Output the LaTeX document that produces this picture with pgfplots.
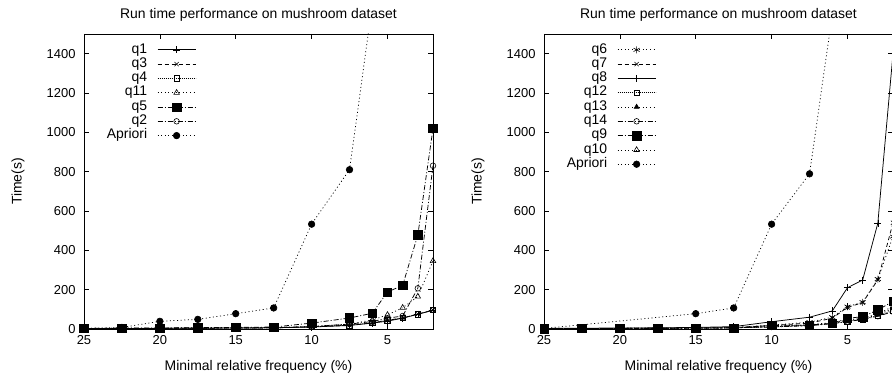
\documentclass[border=0pt]{standalone}
\usepackage{fontspec}
\setmainfont{Liberation Sans}
\usepackage{pgfplots}
\pgfplotsset{compat=1.18}
\pgfplotsset{
  gp/.style={
    scale only axis, width=349bp, height=295bp,
    xmin=2, xmax=25, x dir=reverse, ymin=0, ymax=1500,
    xtick={25,20,15,10,5}, ytick={0,200,...,1400},
    tick align=inside, major tick length=5bp,
    axis line style={line width=0.6bp}, tick style={line width=0.6bp, black},
    tick label style={font=\fontsize{13}{15}\selectfont},
    /pgf/number format/assume math mode=true,
    /pgf/number format/1000 sep={},
    yticklabel style={xshift=-5bp},
    xticklabel style={yshift=-3bp},
    label style={font=\fontsize{14}{16}\selectfont},
    title style={font=\fontsize{14}{16}\selectfont, at={(axis description cs:0.5,1.045)}, anchor=center, yshift=0pt},
    xlabel style={at={(axis description cs:0.5,-0.13)}, anchor=center},
    ylabel style={at={(axis description cs:-0.189,0.5)}, anchor=center},
    xlabel={Minimal relative frequency (\%)}, ylabel={Time(s)},
    title={Run time performance on mushroom dataset},
    every axis plot/.append style={line width=0.75bp, black},
    legend plot pos=right,
    legend cell align=right,
    legend style={draw=none, fill=none, font=\fontsize{14}{16}\selectfont,
      nodes={inner sep=0pt, text height=9.5bp, text depth=3bp},
      row sep=1.8bp, column sep=10bp, anchor=north east},
    legend image code/.code={\draw[mark repeat=2,mark phase=2,#1] plot coordinates {(0bp,0bp)(19bp,0bp)(38bp,0bp)};},
  },
  fdot/.style={dash pattern=on 0.8bp off 1.2bp},
  sdot/.style={dash pattern=on 1bp off 2.6bp},
  ddash/.style={dash pattern=on 4bp off 3bp},
  dashdot/.style={dash pattern=on 5bp off 2bp on 1bp off 2bp},
  mopt/.style={mark options={solid, line width=0.6bp}},
}
\begin{document}
\begin{tikzpicture}
\begin{axis}[gp, at={(84bp,47bp)}, anchor=south west,
  legend style={at={(axis description cs:0.33,0.975)}}]
\addplot[solid, mark=+, mark size=3.5bp, mopt] coordinates {(25,2)(22.5,3)(20,3)(17.5,4)(15,5)(12.5,6)(10,10)(7.5,18)(6,30)(5,40)(4,55)(3,75)(2,95)};
\addlegendentry{q1}
\addplot[ddash, mark=x, mark size=3bp, mopt] coordinates {(25,2)(22.5,3)(20,3)(17.5,4)(15,5)(12.5,6)(10,11)(7.5,19)(6,31)(5,44)(4,56)(3,76)(2,96)};
\addlegendentry{q3}
\addplot[fdot, mark=square, mark size=2.8bp, mopt] coordinates {(25,2)(22.5,3)(20,3)(17.5,4)(15,5)(12.5,6)(10,11)(7.5,20)(6,32)(5,45)(4,57)(3,75)(2,97)};
\addlegendentry{q4}
\addplot[sdot, mark=triangle, mark size=3.2bp, mopt] coordinates {(25,2)(22.5,3)(20,4)(17.5,5)(15,6)(12.5,8)(10,13)(7.5,25)(6,46)(5,72)(4,108)(3,165)(2,346)};
\addlegendentry{q11}
\addplot[dashdot, mark=square*, mark size=4.2bp, mopt] coordinates {(25,3)(22.5,5)(20,5)(17.5,7)(15,8)(12.5,10)(10,30)(7.5,56)(6,80)(5,188)(4,222)(3,478)(2,1020)};
\addlegendentry{q5}
\addplot[dashdot, mark=o, mark size=2.8bp, mopt] coordinates {(25,2)(22.5,3)(20,4)(17.5,5)(15,6)(12.5,7)(10,12)(7.5,25)(6,38)(5,55)(4,66)(3,207)(2,830)};
\addlegendentry{q2}
\addplot[sdot, mark=*, mark size=3.3bp, mopt] coordinates {(25,3)(22.5,8)(20,39)(17.5,49)(15,78)(12.5,107)(10,533)(7.5,810)(6,1650)};
\addlegendentry{Apriori}
\end{axis}
\begin{axis}[gp, at={(544bp,47bp)}, anchor=south west,
  legend style={at={(axis description cs:0.33,0.975)}}]
\addplot[sdot, mark=asterisk, mark size=3.5bp, mopt] coordinates {(25,2)(22.5,3)(20,3)(17.5,4)(15,5)(12.5,7)(10,20)(7.5,35)(6,60)(5,114)(4,136)(3,254)(2,470)};
\addlegendentry{q6}
\addplot[ddash, mark=x, mark size=3bp, mopt] coordinates {(25,2)(22.5,3)(20,3)(17.5,4)(15,5)(12.5,7)(10,18)(7.5,30)(6,55)(5,110)(4,134)(3,250)(2,540)};
\addlegendentry{q7}
\addplot[solid, mark=+, mark size=3.5bp, mopt] coordinates {(25,3)(22.5,4)(20,5)(17.5,6)(15,8)(12.5,12)(10,37)(7.5,60)(6,92)(5,210)(4,249)(3,538)(2,1400)};
\addlegendentry{q8}
\addplot[fdot, mark=square, mark size=2.8bp, mopt] coordinates {(25,2)(22.5,3)(20,3)(17.5,4)(15,5)(12.5,6)(10,11)(7.5,18)(6,28)(5,40)(4,50)(3,68)(2,95)};
\addlegendentry{q12}
\addplot[sdot, mark=triangle*, mark size=2.8bp, mopt] coordinates {(25,2)(22.5,3)(20,3)(17.5,4)(15,5)(12.5,6)(10,12)(7.5,20)(6,30)(5,42)(4,52)(3,72)(2,105)};
\addlegendentry{q13}
\addplot[dashdot, mark=o, mark size=2.8bp, mopt] coordinates {(25,2)(22.5,3)(20,3)(17.5,4)(15,5)(12.5,6)(10,10)(7.5,17)(6,27)(5,38)(4,48)(3,65)(2,88)};
\addlegendentry{q14}
\addplot[dashdot, mark=square*, mark size=4.2bp, mopt] coordinates {(25,2)(22.5,3)(20,3)(17.5,3)(15,5)(12.5,5)(10,18)(7.5,20)(6,29)(5,54)(4,63)(3,97)(2,140)};
\addlegendentry{q9}
\addplot[sdot, mark=triangle, mark size=3.2bp, mopt] coordinates {(25,2)(22.5,3)(20,3)(17.5,4)(15,5)(12.5,6)(10,13)(7.5,22)(6,33)(5,46)(4,56)(3,76)(2,115)};
\addlegendentry{q10}
\addplot[sdot, mark=*, mark size=3.3bp, mopt] coordinates {(25,3)(15,78)(12.5,107)(10,533)(7.5,789)(6,1600)};
\addlegendentry{Apriori}
\end{axis}
\pgfresetboundingbox
\useasboundingbox (0,0) rectangle (892bp,376bp);
\end{tikzpicture}
\end{document}
